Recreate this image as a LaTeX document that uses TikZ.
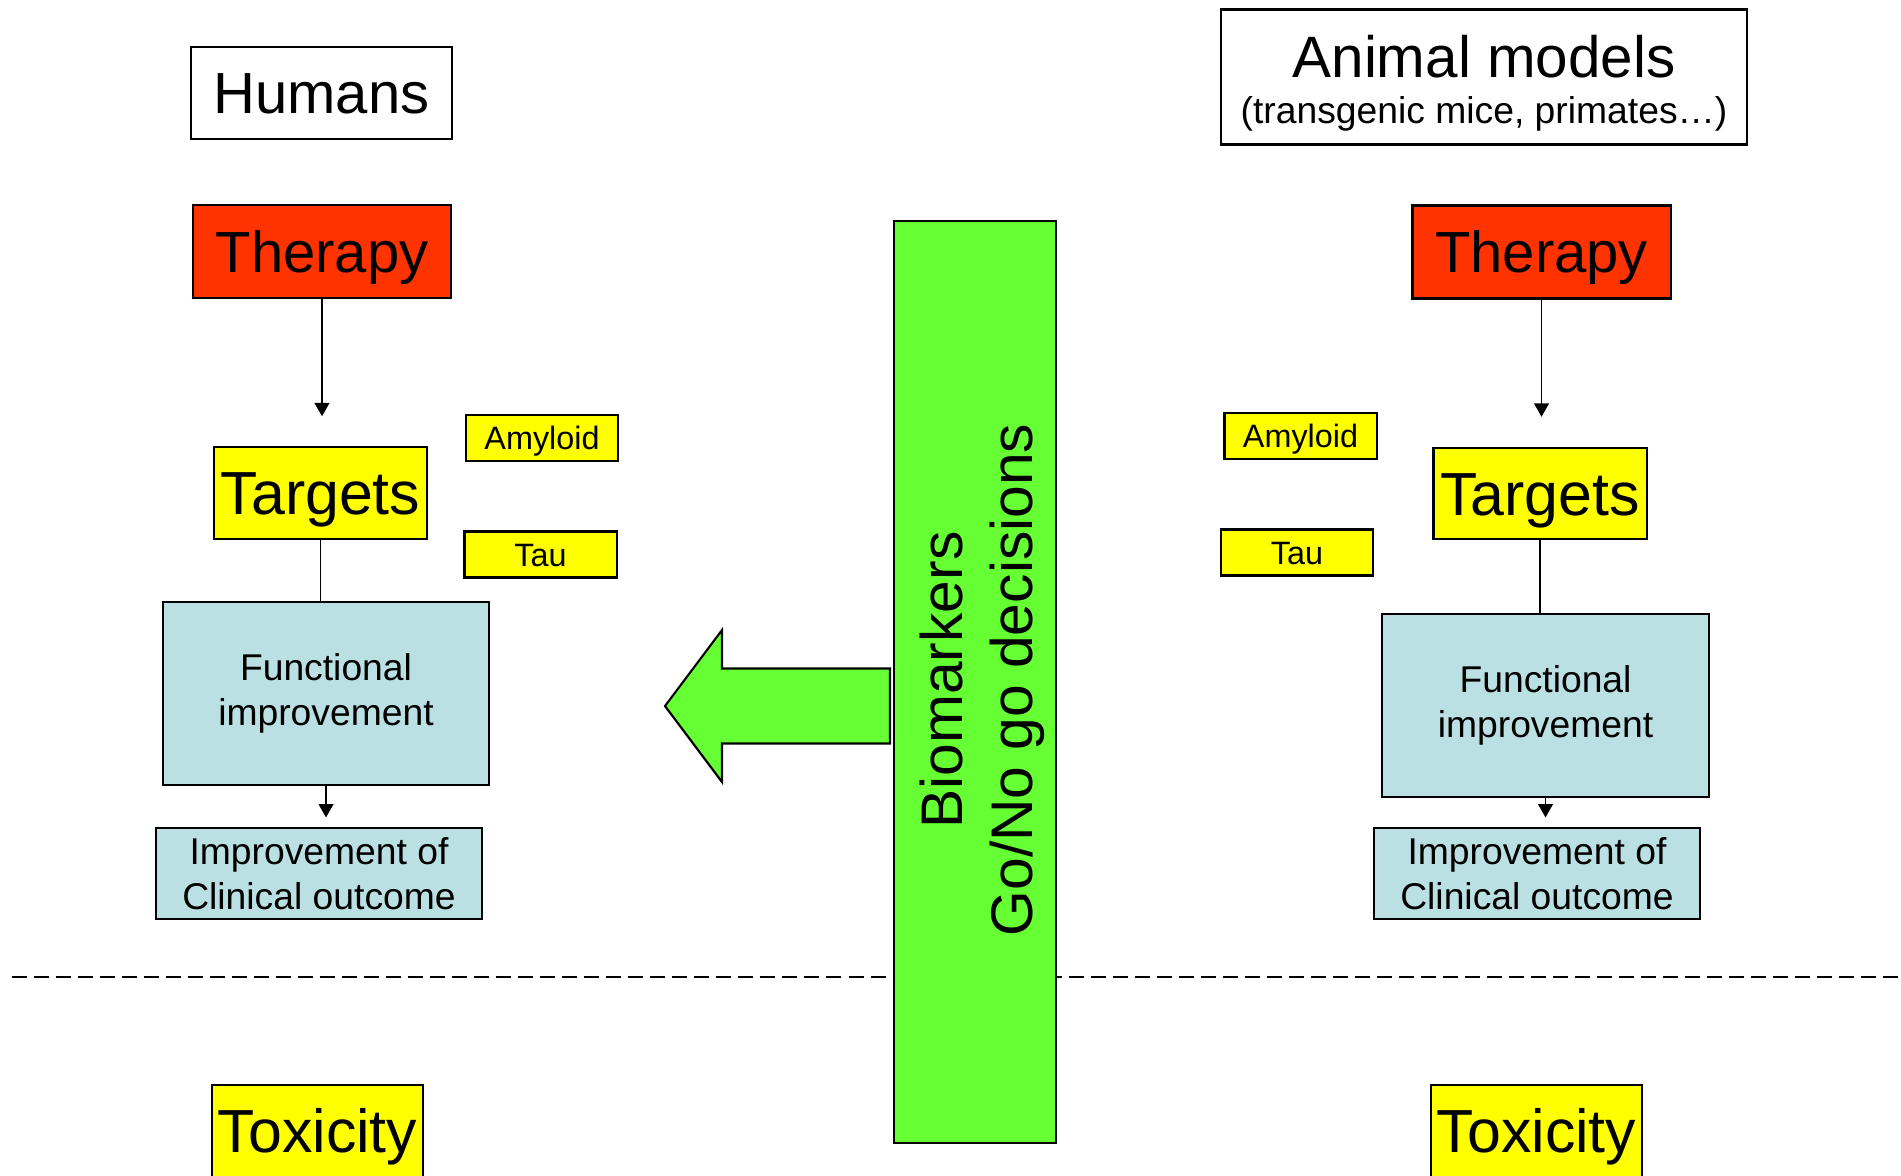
\documentclass[tikz,border=0pt]{standalone}
\usepackage{fontspec}
\setmainfont{Liberation Sans}
\usetikzlibrary{arrows.meta}
\usetikzlibrary{math}

\definecolor{therapyred}{HTML}{FF3300}
\definecolor{targetyellow}{HTML}{FFFF00}
\definecolor{outcomeblue}{HTML}{BBE0E3}
\definecolor{markergreen}{HTML}{66FF33}

\tikzset{
    panel/.style={draw, line width=0.6pt, inner sep=0pt, align=center},
    bigpanel/.style={panel, font=\fontsize{16.5}{19.8}\selectfont,
        text height=11.9pt, text depth=0pt},
    therapypanel/.style={bigpanel, fill=therapyred,
        minimum width=2.58cm, minimum height=0.93cm},
    targetpanel/.style={bigpanel, fill=targetyellow,
        font=\fontsize{17.3}{20.8}\selectfont, text height=12.4pt,
        minimum width=2.13cm, minimum height=0.915cm},
    toxpanel/.style={targetpanel, minimum width=2.11cm, minimum height=0.92cm},
    tagpanel/.style={panel, fill=targetyellow,
        font=\fontsize{9.2}{11}\selectfont, text height=6.6pt, text depth=0pt,
        minimum width=1.52cm, minimum height=0.46cm},
    bluepanel/.style={panel, fill=outcomeblue,
        font=\fontsize{10.6}{12.8}\selectfont, minimum width=3.26cm},
    arr/.style={line width=0.45pt, -{Triangle[length=3.8pt,width=4.2pt]}},
    link/.style={line width=0.45pt}
}

\begin{document}
\begin{tikzpicture}[x=0.01cm, y=-0.01cm]

\useasboundingbox (0,0) rectangle (1901,1175);

% Separates efficacy from toxicity
\draw[line width=0.6pt, dash pattern=on 0.15cm off 0.07cm] (12,977) -- (1901,977);

% Humans column
\node[bigpanel, minimum width=2.61cm, minimum height=0.92cm] (humans) at (321.5,93) {Humans};
\node[therapypanel] (therapyL) at (322,251.5) {Therapy};
\node[targetpanel] (targetsL) at (320.5,493) {Targets};
\node[tagpanel] (amyloidL) at (542,438) {Amyloid};
\node[tagpanel] (tauL) at (540.5,554.5) {Tau};
\node[bluepanel, minimum height=1.835cm] (functionL) at (326,693.5) {Functional\\improvement};
\node[bluepanel, minimum height=0.91cm] (clinicalL) at (319,873.5) {Improvement of\\Clinical outcome};
\node[toxpanel] (toxicityL) at (317.5,1131) {Toxicity};

\draw[arr, shorten >=8.5pt] (therapyL.south) -- (therapyL.south |- targetsL.north);
\draw[link] (targetsL.south) -- (targetsL.south |- functionL.north);
\draw[arr, shorten >=2.7pt] (functionL.south) -- (functionL.south |- clinicalL.north);

% Animal models column
\node[panel, minimum width=5.26cm, minimum height=1.35cm, text height=26.5pt, text depth=0pt,
    font=\fontsize{16.6}{13.2}\selectfont] (animals) at (1484,77)
    {Animal models\\{\fontsize{10.6}{13.2}\selectfont (transgenic mice, primates\dots)}};
\node[therapypanel] (therapyR) at (1541.5,252) {Therapy};
\node[targetpanel] (targetsR) at (1540,493.5) {Targets};
\node[tagpanel] (amyloidR) at (1300.5,436) {Amyloid};
\node[tagpanel] (tauR) at (1297,552.5) {Tau};
\node[bluepanel, minimum height=1.83cm] (functionR) at (1545.5,705.5) {Functional\\improvement};
\node[bluepanel, minimum height=0.91cm] (clinicalR) at (1537,873.5) {Improvement of\\Clinical outcome};
\node[toxpanel] (toxicityR) at (1536.5,1131) {Toxicity};

\draw[arr, shorten >=8.5pt] (therapyR.south) -- (therapyR.south |- targetsR.north);
\draw[link] (targetsR.south) -- (targetsR.south |- functionR.north);
\draw[arr, shorten >=2.7pt] (functionR.south) -- (functionR.south |- clinicalR.north);

% Biomarker bar
\node[draw, line width=0.6pt, fill=markergreen, minimum width=1.62cm,
    minimum height=9.22cm] (bar) at (975,682) {};
\node[rotate=90, align=center, font=\fontsize{16.7}{19.9}\selectfont]
    (biotext) at (982,680) {Biomarkers\\Go/No go decisions};

% Big arrow towards the humans
\tikzmath{
    \tipx = 665;
    \neckx = 722;
    \tailx = 890;
    \midy = 706;
    \shaft = 37.5;
    \head = 76;
}
\draw[line width=0.6pt, fill=markergreen]
    (\tailx,\midy-\shaft) -- (\neckx,\midy-\shaft) -- (\neckx,\midy-\head)
    -- (\tipx,\midy) -- (\neckx,\midy+\head) -- (\neckx,\midy+\shaft)
    -- (\tailx,\midy+\shaft) -- cycle;

\end{tikzpicture}
\end{document}
